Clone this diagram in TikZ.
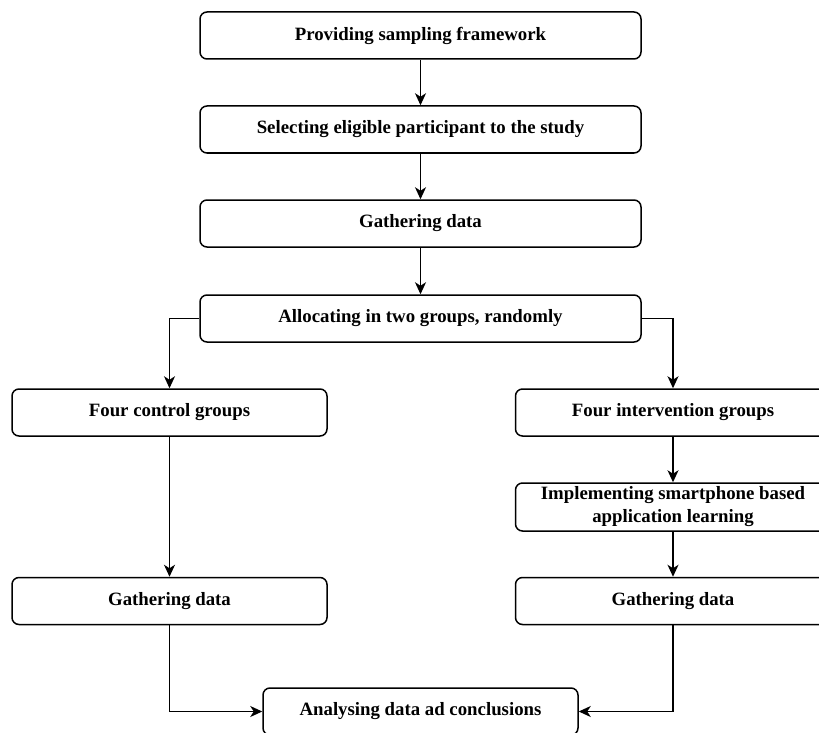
\documentclass[tikz,border=0pt]{standalone}
\usepackage{fontspec}
\setmainfont{Liberation Serif}
\usetikzlibrary{arrows.meta}
\tikzset{
  box/.style={draw=black, line width=1.5pt, rounded corners=7pt, align=center,
    inner sep=0pt, font=\fontsize{18.8}{23}\selectfont\bfseries, text=black},
  wide/.style={box, minimum width=441pt, minimum height=47pt},
  narrow/.style={box, minimum width=315pt, minimum height=47pt},
  conn/.style={draw=black, line width=1.4pt, -{Stealth[length=12pt,width=11pt,inset=3.5pt]}}
}
\begin{document}
\begin{tikzpicture}[x=1pt,y=-1pt]
\clip (0,0) rectangle (819,733);
\fill[white] (0,0) rectangle (819,733);
\node[wide] (b1) at (420.5,35.5) {Providing sampling framework};
\node[wide] (b2) at (420.5,129.5) {Selecting eligible participant to the study};
\node[wide] (b3) at (420.5,223.5) {Gathering data};
\node[wide] (b4) at (420.5,318.5) {Allocating in two groups, randomly};
\node[narrow] (fc) at (169.5,412.5) {Four control groups};
\node[narrow] (fi) at (673,412.5) {Four intervention groups};
\node[narrow, minimum height=48pt] (im) at (673,507) {Implementing smartphone based\\application learning};
\node[narrow] (gl) at (169.5,601) {Gathering data};
\node[narrow] (gr) at (673,601) {Gathering data};
\node[narrow] (an) at (420.5,711.5) {Analysing data ad conclusions};
\draw[conn] (b1) -- (b2);
\draw[conn] (b2) -- (b3);
\draw[conn] (b3) -- (b4);
\draw[conn] (b4.west) -| (fc.north);
\draw[conn] (b4.east) -| (fi.north);
\draw[conn] (fc) -- (gl);
\draw[conn] (fi) -- (im);
\draw[conn] (im) -- (gr);
\draw[conn] (gl.south) |- (an.west);
\draw[conn] (gr.south) |- (an.east);
\end{tikzpicture}
\end{document}
